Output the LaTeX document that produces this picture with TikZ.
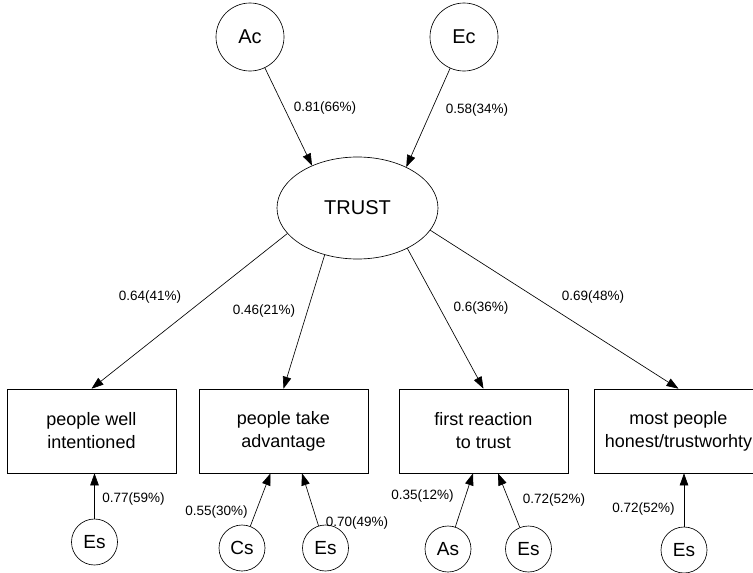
\documentclass[tikz,border=0pt]{standalone}
\usepackage{fontspec}
\setmainfont{Liberation Sans}
\usetikzlibrary{arrows.meta,shapes.geometric}

\begin{document}
\begin{tikzpicture}[x=1pt,y=-1pt,line width=0.65pt,
 every node/.style={align=center,inner sep=0pt},
 common/.style={draw,circle,minimum size=68pt,font=\fontsize{20}{24}\selectfont},
 unique/.style={draw,circle,minimum size=46pt,font=\fontsize{19}{23}\selectfont},
 item/.style={draw,rectangle,minimum width=169pt,minimum height=84pt,font=\fontsize{18}{23}\selectfont},
 coef/.style={font=\fontsize{13.5}{16}\selectfont},
 link/.style={-{Triangle[length=12pt,width=8.5pt]}}]
\useasboundingbox (0,0) rectangle (753,573);
\clip (0,0) rectangle (753,573);
\node[common] (ac) at (250,37) {Ac};
\node[common] (ec) at (464,37) {Ec};
\node[draw,ellipse,minimum width=161pt,minimum height=102pt,
 font=\fontsize{20}{24}\selectfont] (trust) at (357.5,208) {TRUST};
\node[item] (well) at (91.5,431) {people well\\intentioned};
\node[item] (take) at (283.5,431) {people take\\advantage};
\node[item] (first) at (483.5,431) {first reaction\\to trust};
\node[item] (most) at (678.5,431) {most people\\honest/trustworhty};
\node[unique] (es1) at (94.5,542) {Es};
\node[unique] (cs2) at (242,548) {Cs};
\node[unique] (es2) at (325.5,548) {Es};
\node[unique] (as3) at (448,549) {As};
\node[unique] (es3) at (528.5,549) {Es};
\node[unique] (es4) at (684,550) {Es};
% loadings
\draw[link] (ac)--(trust.137.8);
\draw[link] (ec)--(trust.40.3);
\draw[link] (trust.200)--(well.north);
\draw[link] (trust.235)--(take.north);
\draw[link] (trust.321.6)--(first.north);
\draw[link] (trust.343.5)--(most.north);
\draw[link] (es1)--(es1 |- well.south);
\draw[link] (cs2)--([xshift=-13pt]take.south);
\draw[link] (es2)--([xshift=18.5pt]take.south);
\draw[link] (as3)--([xshift=-10.5pt]first.south);
\draw[link] (es3)--([xshift=14.5pt]first.south);
\draw[link] (es4)--(es4 |- most.south);
% estimates
\node[coef] (kac) at (325,108) {0.81(66\%)};
\node[coef] (kec) at (477,110) {0.58(34\%)};
\node[coef] (kwell) at (150,297) {0.64(41\%)};
\node[coef] (ktake) at (264,311) {0.46(21\%)};
\node[coef] (kfirst) at (481,308) {0.6(36\%)};
\node[coef] (kmost) at (593,297) {0.69(48\%)};
\node[coef] (kes1) at (133.5,499) {0.77(59\%)};
\node[coef] (kcs2) at (216.5,512) {0.55(30\%)};
\node[coef] (kes2) at (357,523) {0.70(49\%)};
\node[coef] (kas3) at (422.5,496) {0.35(12\%)};
\node[coef] (kes3) at (554,500) {0.72(52\%)};
\node[coef] (kes4) at (643.5,509) {0.72(52\%)};
\end{tikzpicture}
\end{document}
